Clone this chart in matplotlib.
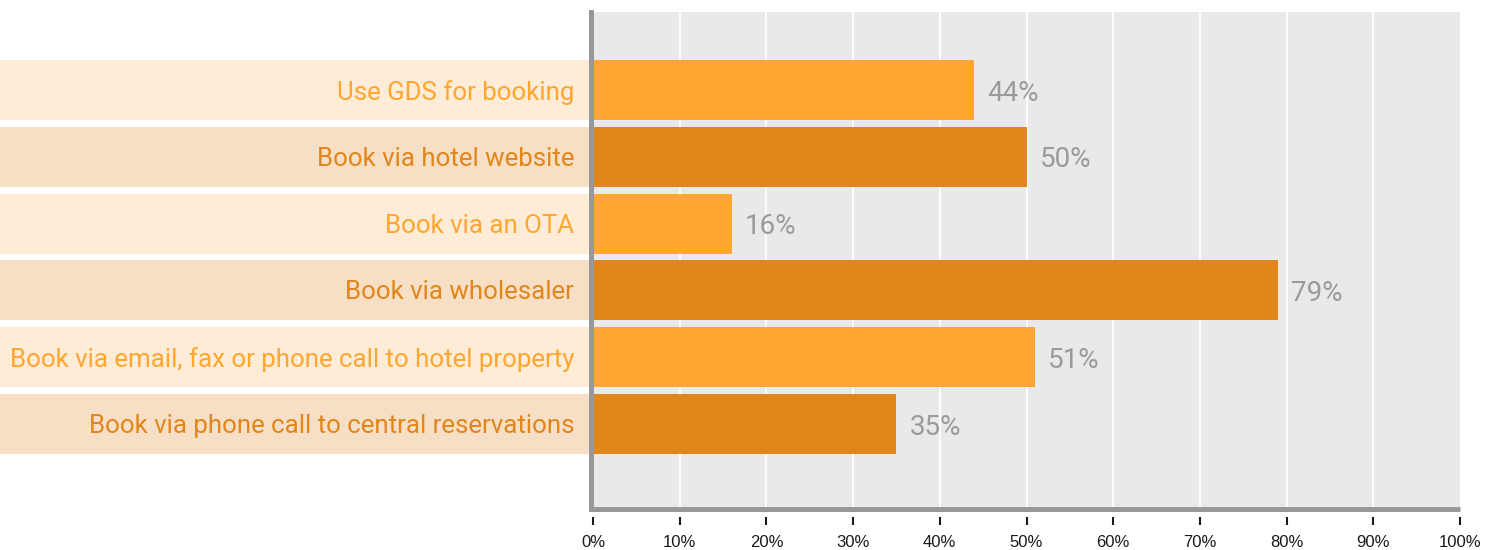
import matplotlib
matplotlib.use("Agg")
import matplotlib.pyplot as plt
from matplotlib.patches import Rectangle
from matplotlib.transforms import blended_transform_factory

# Booking channel usage (share of respondents, %)
categories = [
    "Use GDS for booking",
    "Book via hotel website",
    "Book via an OTA",
    "Book via wholesaler",
    "Book via email, fax or phone call to hotel property",
    "Book via phone call to central reservations",
]
values = [44, 50, 16, 79, 51, 35]
x_ticks = [0, 10, 20, 30, 40, 50, 60, 70, 80, 90, 100]
x_tick_labels = [f"{t}%" for t in x_ticks]

BAR_LIGHT = "#FFA630"
BAR_DARK = "#E1861B"
BAND_LIGHT = "#FEECD6"
BAND_DARK = "#F6DFC5"
PLOT_BG = "#E9E9EB"
SPINE = "#98989B"
VALUE_GREY = "#9A9A9A"

W, H = 1495, 550
fig = plt.figure(figsize=(W / 100, H / 100), dpi=100, facecolor="white")

left_px, right_px, top_px, bottom_px = 590.5, 1460, 12, 509
ax = fig.add_axes([left_px / W, (H - bottom_px) / H,
                   (right_px - left_px) / W, (bottom_px - top_px) / H])
ax.set_facecolor(PLOT_BG)

pitch_px = 66.8
first_center_px = 90
ax.set_ylim((bottom_px - first_center_px) / pitch_px,
            (top_px - first_center_px) / pitch_px)
ax.set_xlim(-2.5 / 8.67, 100)

bar_h = 60 / pitch_px
ypos = list(range(len(categories)))
colors = [BAR_LIGHT if i % 2 == 0 else BAR_DARK for i in ypos]
band_colors = [BAND_LIGHT if i % 2 == 0 else BAND_DARK for i in ypos]

# vertical white gridlines
for t in x_ticks[1:-1]:
    ax.axvline(t, color="white", lw=1.3, zorder=1)

ax.barh(ypos, values, height=bar_h, color=colors, zorder=2)

# label bands to the left of the plot
band_tr = blended_transform_factory(fig.transFigure, ax.transData)
for i, (cat, bc, tc) in enumerate(zip(categories, band_colors, colors)):
    ax.add_patch(Rectangle((0, i - bar_h / 2), left_px / W, bar_h,
                           transform=band_tr, facecolor=bc, edgecolor="none",
                           clip_on=False, zorder=0))
    ax.annotate(cat, xy=(0, i), xytext=(-13.6, -1.5), textcoords="offset points",
                ha="right", va="center", color=tc, fontsize=18.6,
                family=["Roboto", "DejaVu Sans"], annotation_clip=False)

for i, v in enumerate(values):
    ax.annotate(f"{v}%", xy=(v, i), xytext=(9.4, -2.2), textcoords="offset points",
                ha="left", va="center", color=VALUE_GREY, fontsize=20,
                family=["Roboto", "DejaVu Sans"])

# spines
for s in ["top", "right"]:
    ax.spines[s].set_visible(False)
ax.spines["left"].set_color(SPINE)
ax.spines["left"].set_linewidth(3.6)
ax.spines["left"].set_zorder(3)
ax.spines["bottom"].set_position(("outward", 6))
ax.spines["bottom"].set_visible(False)
ax.axhline(ax.get_ylim()[0], color=SPINE, lw=3.6, clip_on=False, zorder=3,
           solid_capstyle="butt")

ax.set_yticks([])
ax.set_xticks(x_ticks)
ax.set_xticklabels(x_tick_labels, family=["Liberation Sans", "DejaVu Sans"],
                   fontsize=12, color="#1A1A1A")
ax.tick_params(axis="x", direction="out", length=5.8, width=1.5,
               color="#1A1A1A", pad=7)

fig.savefig("out.png", dpi=100, facecolor="white")
